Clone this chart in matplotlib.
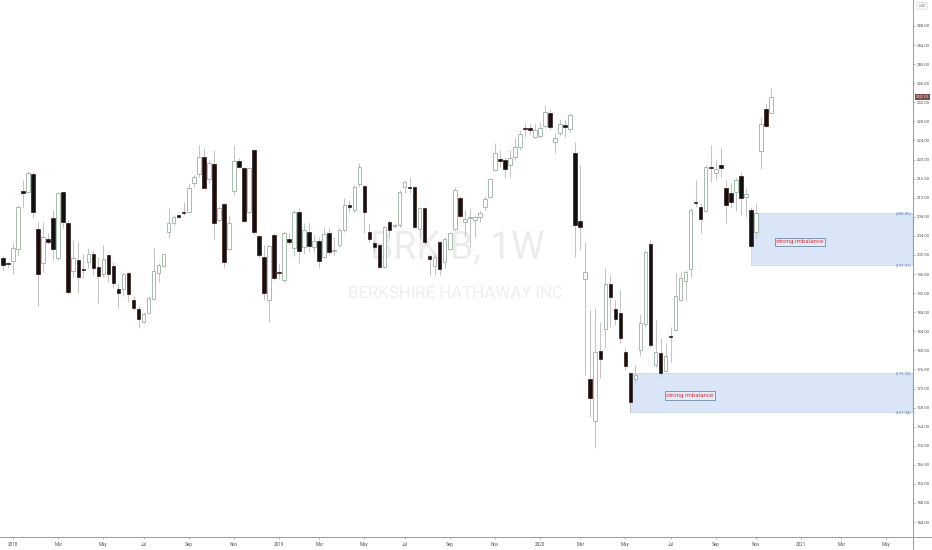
import matplotlib
matplotlib.use("Agg")
import matplotlib.pyplot as plt
import matplotlib.dates as mdates
from matplotlib.lines import Line2D
from matplotlib.patches import Rectangle
import matplotlib.transforms as mtrans
import numpy as np
import pandas as pd

# ---------------- data (weekly BRK.B candles) ----------------
first_week = "2017-12-18"
opens = [199.4, 198.1, 198.8, 201.2, 213.15, 213.3, 217.0, 205.4, 198.3, 203.3,
         207.7, 199.4, 213.1, 206.8, 196.7, 199.0, 196.9, 198.6, 200.1, 197.4,
         196.0, 199.9, 197.7, 192.8, 192.9, 196.3, 190.6, 188.6, 186.0, 187.9,
         190.7, 196.2, 197.7, 204.9, 206.6, 208.4, 208.8, 209.1, 215.0, 217.0,
         220.5, 215.9, 219.0, 207.3, 210.7, 201.2, 213.5, 219.8, 218.2, 209.1,
         222.0, 204.0, 199.6, 190.6, 204.2, 196.4, 194.7, 203.3, 201.5, 209.0,
         201.7, 204.8, 201.7, 202.9, 199.6, 204.6, 200.8, 202.1, 205.2, 210.5,
         209.4, 214.9, 214.5, 204.8, 202.5, 202.1, 197.5, 206.9, 206.0, 206.3,
         214.2, 214.1, 214.2, 205.4, 209.8, 199.8, 197.7, 202.7, 198.5, 201.2,
         205.4, 211.9, 206.9, 207.7, 207.3, 207.9, 210.1, 212.2, 217.8, 220.1,
         219.9, 218.9, 220.5, 222.6, 226.7, 226.6, 224.7, 224.9, 227.0, 229.8,
         223.7, 225.6, 227.2, 226.4, 221.4, 207.1, 195.0, 174.0, 165.2, 179.9,
         184.5, 194.0, 188.7, 187.8, 179.7, 175.23, 174.0, 180.0, 185.5, 202.3,
         177.0, 179.5, 175.7, 183.1, 184.3, 190.6, 194.6, 197.1, 211.2, 210.1,
         209.2, 218.5, 217.2, 218.9, 214.0, 213.0, 213.2, 216.6, 212.2, 209.4,
         204.8, 221.8, 230.6, 229.8]
highs = [200.0, 198.6, 202.5, 210.5, 215.7, 217.5, 217.3, 207.0, 207.0, 204.5,
         209.4, 213.3, 213.3, 207.3, 203.1, 202.8, 200.3, 201.4, 201.0, 199.6,
         202.1, 200.1, 198.6, 194.1, 196.2, 196.5, 191.3, 189.2, 188.1, 191.3,
         201.4, 198.3, 200.3, 209.8, 208.4, 208.6, 211.2, 215.0, 216.8, 223.1,
         222.4, 219.9, 222.0, 210.1, 210.8, 208.4, 223.0, 220.3, 218.5, 218.5,
         222.2, 204.2, 202.1, 202.1, 204.5, 198.0, 205.0, 204.5, 209.5, 209.8,
         206.6, 206.6, 204.2, 203.8, 205.9, 205.6, 203.8, 205.6, 211.9, 211.5,
         214.7, 219.2, 214.7, 206.6, 203.1, 202.4, 206.0, 207.3, 206.6, 213.6,
         215.7, 216.3, 214.5, 210.1, 210.1, 200.3, 200.3, 202.8, 203.8, 204.9,
         214.3, 212.3, 209.4, 209.8, 208.4, 209.4, 212.3, 216.1, 223.4, 222.0,
         220.6, 222.0, 224.5, 226.2, 227.6, 227.6, 227.6, 227.9, 231.4, 230.7,
         225.5, 228.6, 228.3, 229.7, 223.7, 218.9, 202.7, 188.5, 188.9, 186.0,
         197.3, 195.8, 190.6, 192.7, 180.5, 175.5, 176.9, 187.6, 201.0, 203.1,
         186.4, 182.6, 181.5, 185.0, 196.2, 196.5, 196.8, 209.8, 215.7, 210.9,
         218.9, 223.0, 219.9, 222.4, 215.7, 215.0, 216.3, 217.4, 214.0, 210.1,
         210.9, 228.9, 231.9, 235.0]
lows = [196.9, 197.2, 196.0, 199.8, 209.8, 212.9, 207.7, 189.3, 196.5, 202.4,
        199.0, 199.0, 205.6, 191.9, 195.4, 192.1, 195.1, 197.2, 195.8, 189.9,
        195.4, 194.4, 193.0, 188.8, 191.3, 190.2, 188.5, 184.6, 185.7, 187.8,
        190.6, 194.4, 197.5, 203.5, 206.3, 207.8, 208.4, 208.7, 214.3, 216.4,
        214.0, 215.0, 203.3, 207.0, 197.2, 201.0, 212.6, 218.2, 207.0, 208.7,
        204.3, 199.3, 190.6, 186.0, 194.8, 195.0, 194.4, 202.0, 199.8, 198.3,
        200.3, 200.7, 200.7, 197.2, 199.3, 200.0, 200.0, 201.7, 204.9, 209.1,
        209.1, 214.3, 204.5, 202.8, 200.7, 197.2, 197.2, 203.8, 205.6, 205.9,
        212.9, 212.9, 205.6, 203.5, 202.4, 195.8, 195.8, 195.8, 197.2, 201.0,
        205.2, 207.7, 203.8, 201.7, 203.8, 207.0, 209.4, 211.9, 217.5, 218.5,
        216.1, 216.4, 219.9, 222.0, 224.8, 225.2, 224.5, 224.5, 226.6, 226.2,
        221.3, 225.2, 224.8, 225.8, 199.6, 201.0, 174.8, 166.0, 159.6, 174.2,
        180.5, 184.9, 185.3, 181.5, 175.9, 167.04, 173.2, 178.8, 184.9, 180.7,
        176.5, 174.4, 175.5, 177.6, 184.1, 190.3, 190.4, 195.4, 210.1, 204.6,
        209.0, 215.3, 215.7, 216.3, 206.7, 209.8, 209.2, 208.4, 208.0, 201.7,
        203.5, 218.0, 226.8, 229.8]
closes = [197.9, 198.0, 201.4, 210.1, 213.05, 217.1, 209.1, 196.0, 203.7, 202.7,
          201.3, 212.9, 207.0, 192.3, 199.4, 195.4, 196.8, 200.1, 197.2, 195.6,
          199.2, 196.0, 194.2, 192.1, 196.0, 191.8, 188.8, 186.6, 187.6, 190.9,
          196.7, 197.8, 200.2, 206.6, 208.0, 208.0, 208.7, 214.0, 216.3, 220.5,
          214.1, 219.3, 206.8, 209.8, 198.5, 206.6, 219.6, 218.4, 207.1, 218.2,
          204.9, 200.0, 192.1, 201.9, 195.1, 196.2, 204.5, 202.7, 209.0, 200.8,
          205.2, 201.9, 202.9, 198.7, 204.4, 200.6, 200.9, 205.2, 210.5, 210.1,
          214.2, 218.4, 209.0, 203.3, 201.7, 197.5, 205.9, 205.2, 206.1, 213.2,
          215.3, 214.0, 205.9, 209.8, 202.7, 199.2, 199.6, 197.1, 203.3, 204.6,
          213.6, 208.1, 207.5, 207.9, 207.9, 208.8, 211.7, 215.9, 221.4, 219.7,
          218.0, 220.3, 222.6, 225.4, 226.4, 226.2, 226.2, 226.6, 230.0, 226.8,
          224.5, 227.5, 226.8, 229.3, 206.3, 205.9, 196.4, 170.0, 179.7, 178.2,
          194.0, 191.2, 186.6, 182.6, 176.8, 169.2, 174.8, 185.7, 200.6, 181.1,
          179.7, 175.3, 178.9, 182.8, 191.4, 195.2, 196.4, 209.4, 210.9, 207.5,
          218.4, 218.2, 218.0, 218.2, 210.5, 211.1, 215.7, 211.9, 212.8, 201.9,
          208.8, 227.5, 227.0, 233.13]

zone_start = ["2020-05-11", "2020-10-26"]
zone_top = [175.23, 208.85]
zone_bottom = [167.04, 197.91]
zone_text = ["strong imbalance", "strong imbalance"]

y_ticks = list(range(144, 252, 4))
last_price = 233.13
symbol_text = "BRK.B, 1W"
company_text = "BERKSHIRE HATHAWAY INC"

# ---------------- figure ----------------
W, H = 932, 550
fig = plt.figure(figsize=(W / 100, H / 100), dpi=100)
ax_left_px, ax_right_px, ax_bottom_px = 0, 912.5, 13
ax = fig.add_axes([ax_left_px / W, ax_bottom_px / H,
                   (ax_right_px - ax_left_px) / W, (H - ax_bottom_px) / H])

dates = pd.date_range(first_week, periods=len(opens), freq="W-MON")
x = mdates.date2num(dates)
o = np.array(opens); h = np.array(highs); l = np.array(lows); c = np.array(closes)
up = c >= o

wick_color = "#c4c4c4"
up_face, up_edge = "#ffffff", "#90ab9a"
dn_face, dn_edge = "#111111", "#3a1616"
body_w = 5.0  # days

ax.vlines(x, l, h, color=wick_color, linewidth=0.75, zorder=2)
body_bottom = np.minimum(o, c)
body_h = np.maximum(np.abs(c - o), 0.3)
ax.bar(x[up], body_h[up], bottom=body_bottom[up], width=body_w,
       color=up_face, edgecolor=up_edge, linewidth=0.55, zorder=3)
ax.bar(x[~up], body_h[~up], bottom=body_bottom[~up], width=body_w,
       color=dn_face, edgecolor=dn_edge, linewidth=0.5, zorder=3)

# axis limits (weekly spacing ~5 px)
x_left = x[0] - 0.6 * 7
x_right = x[0] + 181.2 * 7
ax.set_xlim(x_left, x_right)
ax.set_ylim(140.87, 253.45)

# zones
for zs, zt, zb, zl in zip(zone_start, zone_top, zone_bottom, zone_text):
    zx = mdates.date2num(pd.Timestamp(zs))
    ax.add_patch(Rectangle((zx, zb), x_right - zx - 0.4, zt - zb,
                           facecolor="#dae6f8", edgecolor="#c3d4ef",
                           linewidth=0.5, zorder=1))
    ax.text(x_right - 0.7, zt, f"({zt:.2f})", ha="right", va="center",
            fontsize=3.1, color="#5a7cb0", family="Roboto", zorder=4)
    ax.text(x_right - 0.7, zb, f"({zb:.2f})", ha="right", va="center",
            fontsize=3.1, color="#5a7cb0", family="Roboto", zorder=4)

label_offsets = [11.9 * 7, 9.8 * 7]
for zs, zt, zb, zl, off in zip(zone_start, zone_top, zone_bottom, zone_text, label_offsets):
    zx = mdates.date2num(pd.Timestamp(zs))
    ax.text(zx + off, (zt + zb) / 2 - 0.6, zl, ha="center", va="center",
            fontsize=4.4, color="#d9363e", family="Roboto", zorder=5,
            bbox=dict(boxstyle="square,pad=0.25", facecolor="#e3ebf7",
                      edgecolor="#6f88aa", linewidth=0.6))

# watermark
ax.text(0.5008, 0.539, symbol_text, transform=ax.transAxes, ha="center",
        va="center", fontsize=27, color="#ececec", family="Roboto", zorder=0)
ax.text(0.499, 0.453, company_text, transform=ax.transAxes, ha="center",
        va="center", fontsize=12.2, color="#eeeeee", family="Roboto", zorder=0)

# spines
for s in ["top", "left"]:
    ax.spines[s].set_visible(False)
ax.spines["right"].set_color("#9a9a9a")
ax.spines["bottom"].set_color("#9a9a9a")
ax.spines["right"].set_linewidth(0.7)
ax.spines["bottom"].set_linewidth(0.7)
fig.add_artist(Line2D([ax_right_px / W, 1.0], [ax_bottom_px / H] * 2,
                      transform=fig.transFigure, color="#9a9a9a", linewidth=0.7))
fig.add_artist(Line2D([ax_right_px / W] * 2, [0, ax_bottom_px / H],
                      transform=fig.transFigure, color="#9a9a9a", linewidth=0.7))

# y ticks (right)
ax.yaxis.tick_right()
ax.set_yticks(y_ticks)
ax.set_yticklabels([f"{v:.2f}" for v in y_ticks])
ax.tick_params(axis="y", direction="out", length=1.6, width=0.5, color="#9a9a9a",
               pad=1.2, labelsize=3.1, labelcolor="#555555")
for t in ax.get_yticklabels():
    t.set_family("Roboto")

# x ticks: first weekly bar of odd months
months = pd.date_range("2018-01-01", "2021-05-01", freq="MS")
months = [m for m in months if m.month % 2 == 1]
tick_pos, tick_lab = [], []
for m in months:
    first_monday = m + pd.Timedelta(days=(7 - m.weekday()) % 7)
    tick_pos.append(mdates.date2num(first_monday))
    tick_lab.append(str(m.year) if m.month == 1 else m.strftime("%b"))
ax.set_xticks(tick_pos)
ax.set_xticklabels(tick_lab)
ax.tick_params(axis="x", direction="out", length=1.4, width=0.5, color="#9a9a9a",
               pad=2.0, labelsize=3.3, labelcolor="#555555")
for t in ax.get_xticklabels():
    t.set_family("Roboto")

# last price label
trans = mtrans.blended_transform_factory(ax.transAxes, ax.transData)
ax.text(1.004, last_price, f"{last_price:.2f}", transform=trans, ha="left",
        va="center", fontsize=3.0, color="#f2e6e6", family="Roboto", zorder=6,
        clip_on=False,
        bbox=dict(boxstyle="square,pad=0.25", facecolor="#7d4d4d", edgecolor="none"))

# currency box
fig.text(922 / W, 1 - 5.8 / H, "USD", ha="center", va="center", fontsize=2.8,
         color="#777777", family="Roboto",
         bbox=dict(boxstyle="round,pad=0.35", facecolor="white",
                   edgecolor="#cfcfcf", linewidth=0.5))

fig.savefig("out.png", dpi=100, facecolor="white")
